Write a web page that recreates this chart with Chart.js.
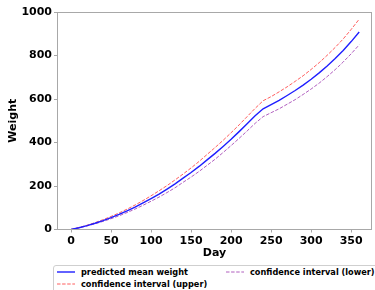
<!DOCTYPE html>
<html>
<head>
<meta charset="utf-8">
<script src="https://cdn.jsdelivr.net/npm/chart.js@4.4.0/dist/chart.umd.min.js"></script>
<style>
  html, body { margin: 0; padding: 0; background: #fff; }
  #wrap { position: relative; width: 375px; height: 290px; overflow: hidden; }
  #legend {
    position: absolute; left: 53px; top: 265px; width: 340px; height: 34px;
    border: 1px solid #cfcfcf; border-radius: 3px; background: #fff;
    font: bold 8.2px "DejaVu Sans", sans-serif; color: #000;
  }
  .item { position: absolute; display: flex; align-items: center; white-space: nowrap; height: 10px; }
  .item svg { margin-right: 6px; }
</style>
</head>
<body>
<div id="wrap">
  <canvas id="myChart" width="375" height="290"></canvas>
  <div id="legend"></div>
</div>
<script>
  // values
  const days = [0, 10, 20, 30, 40, 50, 60, 70, 80, 90, 100, 110, 120, 130, 140, 150, 160, 170, 180,
    190, 200, 210, 220, 230, 240, 250, 260, 270, 280, 290, 300, 310, 320, 330, 340, 350, 360];
  const meanWeight = [0, 8.3, 17.9, 28.8, 41, 54.5, 69.4, 85.5, 103, 122, 142, 163, 186, 210, 236, 262, 290, 320, 350,
    382, 415, 450, 486, 523, 555, 574, 594, 616, 639, 664, 691, 720, 752, 786, 823, 864, 908];
  const upperCI = [0, 9, 19.5, 31.5, 45, 60, 76, 93.5, 112.5, 133, 155, 178, 202, 228, 255, 283, 313, 345, 377,
    410, 445, 481, 519, 557, 592, 611, 633, 656, 681, 707, 736, 767, 801, 837, 876, 920, 967];
  const lowerCI = [0, 7.6, 16.3, 26.2, 37.3, 49.5, 63, 78, 94, 111.5, 130, 149, 170, 192, 217, 241, 267, 295, 323,
    354, 386, 419, 453, 488, 519, 537, 555, 576, 597, 621, 646, 673, 703, 735, 770, 808, 849];
  const xTicks = [0, 50, 100, 150, 200, 250, 300, 350];
  const yTicks = [0, 200, 400, 600, 800, 1000];

  const FONT = '"DejaVu Sans", sans-serif';
  const SPINE = '#a8a8a8';

  function pts(vals) {
    return days.map((d, i) => ({ x: d, y: vals[i] }));
  }

  const datasets = [
    { label: 'predicted mean weight', data: pts(meanWeight), borderColor: '#1f1fff', borderWidth: 1.4, borderDash: [] },
    { label: 'confidence interval (upper)', data: pts(upperCI), borderColor: 'rgba(255,40,40,0.75)', borderWidth: 1, borderDash: [3.5, 1.6] },
    { label: 'confidence interval (lower)', data: pts(lowerCI), borderColor: 'rgba(150,40,170,0.75)', borderWidth: 1, borderDash: [3.5, 1.6] }
  ];

  const frame = {
    id: 'frame',
    afterDraw(chart) {
      const a = chart.chartArea, c = chart.ctx;
      c.save();
      c.strokeStyle = SPINE;
      c.lineWidth = 1;
      c.strokeRect(Math.round(a.left) + 0.5, Math.round(a.top) + 0.5, Math.round(a.right - a.left) - 1, Math.round(a.bottom - a.top) - 1);
      c.restore();
    }
  };

  const tickFont = { family: FONT, size: 11, weight: 'bold' };

  const config = {
    type: 'line',
    data: {
      datasets: datasets.map(d => Object.assign({ fill: false, pointRadius: 0, tension: 0 }, d))
    },
    options: {
      animation: false,
      responsive: false,
      devicePixelRatio: 1,
      layout: { padding: { left: 0, top: 12, right: 3, bottom: 30 } },
      plugins: { legend: { display: false }, tooltip: { enabled: false } },
      scales: {
        x: {
          type: 'linear', min: -17.5, max: 376,
          afterBuildTicks(s) { s.ticks = xTicks.map(v => ({ value: v })); },
          afterFit(s) { s.height = 30.5; },
          grid: { drawOnChartArea: false, drawTicks: true, tickLength: 3, color: SPINE },
          border: { display: false },
          ticks: { color: '#000', padding: 2, maxRotation: 0, font: tickFont, callback: v => String(v) },
          title: { display: true, text: 'Day', color: '#000', padding: 0, font: { family: FONT, size: 11, weight: 'bold' } }
        },
        y: {
          min: 0, max: 1000,
          afterBuildTicks(s) { s.ticks = yTicks.map(v => ({ value: v })); },
          afterFit(s) { s.width = 57; },
          grid: { drawOnChartArea: false, drawTicks: true, tickLength: 3, color: SPINE },
          border: { display: false },
          ticks: { color: '#000', padding: 2, font: tickFont, callback: v => String(v) },
          title: { display: true, text: 'Weight', color: '#000', padding: { top: 7, bottom: 0 }, font: { family: FONT, size: 11, weight: 'bold' } }
        }
      }
    },
    plugins: [frame]
  };

  let myChart = new Chart(document.getElementById('myChart'), config);

  // legend laid out like matplotlib ncol=2 (column first)
  const legendPos = [[3, 1], [3, 13], [172, 1]];
  const legend = document.getElementById('legend');
  datasets.forEach((d, i) => {
    const it = document.createElement('div');
    it.className = 'item';
    it.style.left = legendPos[i][0] + 'px';
    it.style.top = legendPos[i][1] + 'px';
    const dash = d.borderDash.length ? 'stroke-dasharray="3.5,1.6"' : '';
    it.innerHTML = '<svg width="18" height="4"><line x1="0" y1="2" x2="18" y2="2" stroke="' + d.borderColor +
      '" stroke-width="' + d.borderWidth + '" ' + dash + '/></svg><span>' + d.label + '</span>';
    legend.appendChild(it);
  });
</script>
</body>
</html>
